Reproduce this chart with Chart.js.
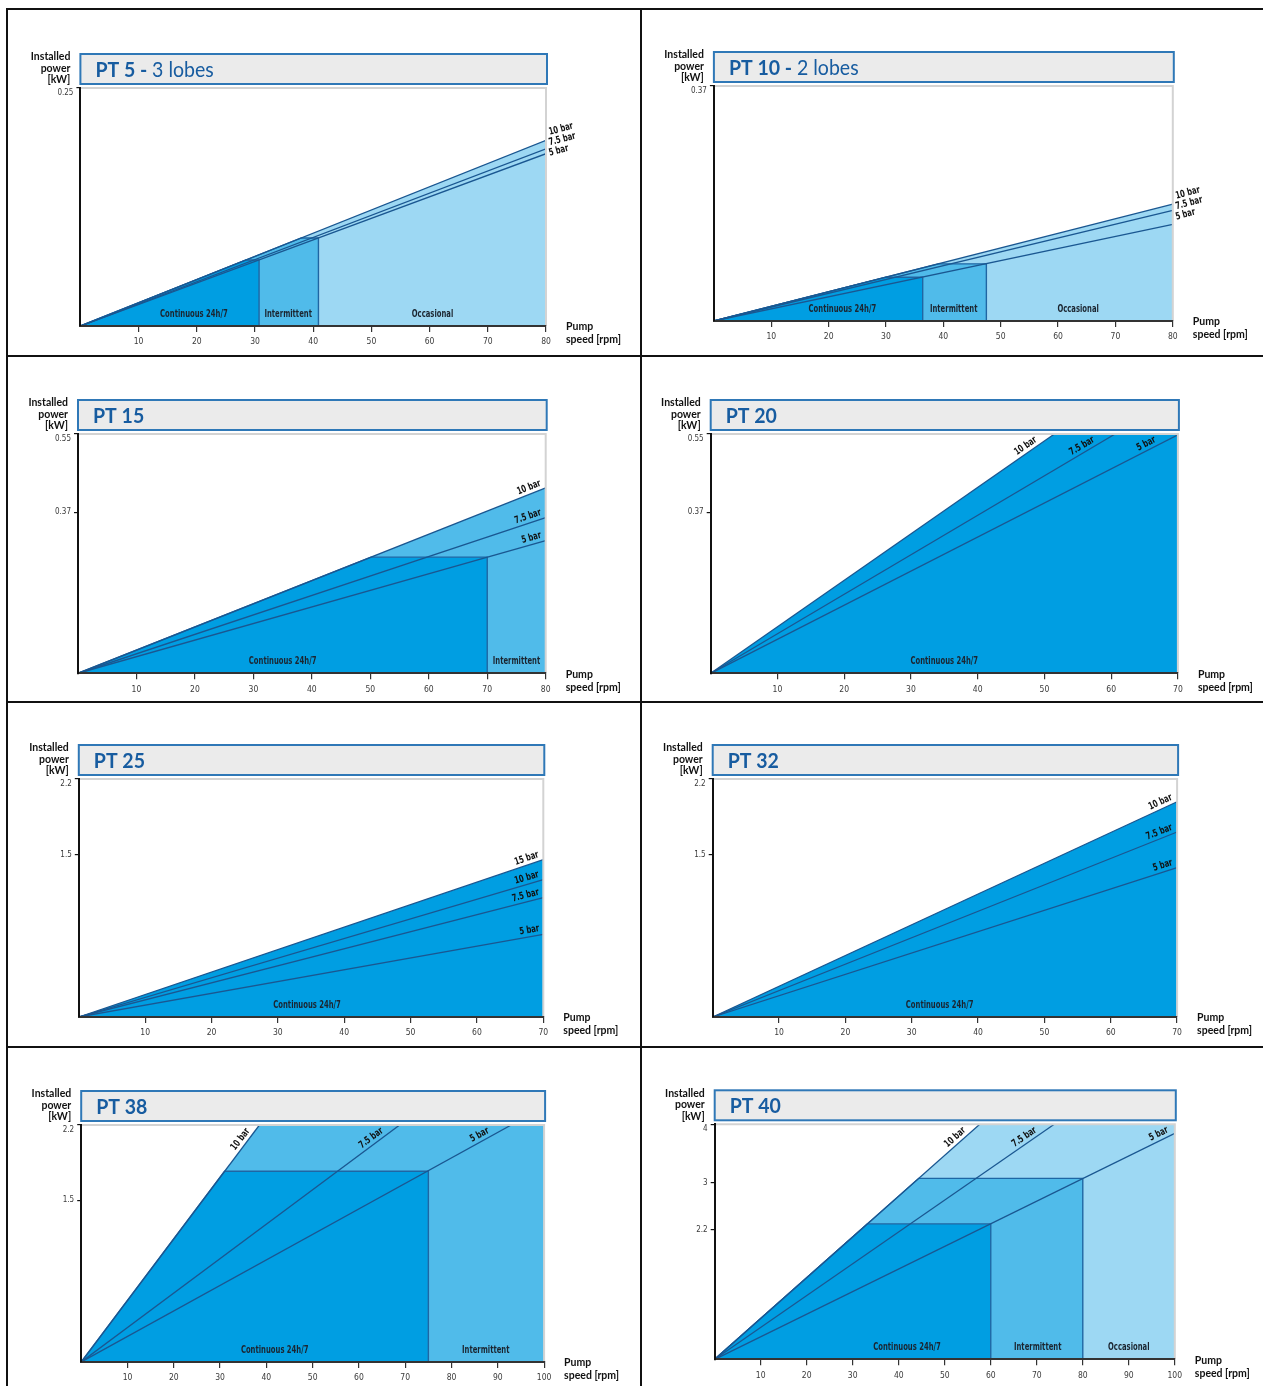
<!DOCTYPE html>
<html>
<head>
<meta charset="utf-8">
<title>Installed power by pump speed</title>
<script src="https://cdn.jsdelivr.net/npm/chart.js@4.4.1/dist/chart.umd.min.js"></script>
<style>
  html, body { margin: 0; padding: 0; background: #fff; }
  #sheet { position: relative; width: 1263px; height: 1386px; overflow: hidden; background: #fff; }
  .rule { position: absolute; background: #111; }
  .cell { position: absolute; }
  .cell canvas { display: block; }
</style>
</head>
<body>
<div id="sheet"></div>
<script>
// ---- data ----
var panelNames = ["PT 5", "PT 10", "PT 15", "PT 20", "PT 25", "PT 32", "PT 38", "PT 40"];
var panelLobes = ["3 lobes", "2 lobes", "", "", "", "", "", ""];
var speedMax = [80, 80, 80, 70, 70, 70, 100, 100];
var powerMax = [0.25, 0.37, 0.55, 0.55, 2.2, 2.2, 2.2, 4];

var speedTicks = [
  [10, 20, 30, 40, 50, 60, 70, 80],
  [10, 20, 30, 40, 50, 60, 70, 80],
  [10, 20, 30, 40, 50, 60, 70, 80],
  [10, 20, 30, 40, 50, 60, 70],
  [10, 20, 30, 40, 50, 60, 70],
  [10, 20, 30, 40, 50, 60, 70],
  [10, 20, 30, 40, 50, 60, 70, 80, 90, 100],
  [10, 20, 30, 40, 50, 60, 70, 80, 90, 100]
];
var powerTicks = [[0.25], [0.37], [0.37, 0.55], [0.37, 0.55], [1.5, 2.2], [1.5, 2.2], [1.5, 2.2], [2.2, 3, 4]];

// pressure curves, highest first
var pressureNames = [
  ["10 bar", "7.5 bar", "5 bar"],
  ["10 bar", "7.5 bar", "5 bar"],
  ["10 bar", "7.5 bar", "5 bar"],
  ["10 bar", "7.5 bar", "5 bar"],
  ["15 bar", "10 bar", "7.5 bar", "5 bar"],
  ["10 bar", "7.5 bar", "5 bar"],
  ["10 bar", "7.5 bar", "5 bar"],
  ["10 bar", "7.5 bar", "5 bar"]
];
// [speed, power] where each curve leaves the chart
var pressureEnds = [
  [[80, 0.195], [80, 0.186], [80, 0.181]],
  [[80, 0.184], [80, 0.174], [80, 0.152]],
  [[80, 0.426], [80, 0.358], [80, 0.305]],
  [[51.5, 0.55], [60.6, 0.55], [70, 0.548]],
  [[70, 1.454], [70, 1.269], [70, 1.103], [70, 0.764]],
  [[70, 1.99], [70, 1.71], [70, 1.38]],
  [[38.5, 2.2], [68.8, 2.2], [92.9, 2.2]],
  [[57.6, 4], [73.8, 4], [100, 3.847]]
];

// duty zones: [max speed, max power] (null power = whole envelope)
var dutyNames = ["Continuous 24h/7", "Intermittent", "Occasional"];
var dutyLimits = [
  [[30.7, 0.0694], [40.9, 0.0925], [80, null]],
  [[36.4, 0.069], [47.5, 0.090], [80, null]],
  [[70, 0.267], [80, null]],
  [[70, null]],
  [[70, null]],
  [[70, null]],
  [[75, 1.77], [100, null]],
  [[60, 2.305], [80, 3.08], [100, null]]
];
var dutyLabelAt = [[19.5, 35.7, 60.5], [22.4, 41.8, 63.5], [35, 75], [35], [34.4], [34.2], [41.8, 87.4], [41.8, 70.2, 90]];

// ---- layout ----
var plotBoxes = [
  [80.4, 88, 546, 326], [713.9, 86, 1172.8, 321],
  [78, 434, 545.7, 673.3], [710.7, 434, 1177.9, 673.3],
  [78.8, 779, 543.3, 1017], [712.7, 779, 1177.1, 1017],
  [81.2, 1125, 544.1, 1362], [714.7, 1124.3, 1174.8, 1359.3]
];
var labelStacked = [true, true, false, false, false, false, false, false];
var cellX = [8, 642], cellW = [632, 621];
var cellY = [10, 357, 703, 1048], cellH = [345, 344, 343, 338];
var Y_AXIS_W = 30, X_AXIS_H = 24;
var SQUEEZE = 0.76; // condensed look for the small labels

var dutyColors = ["#009ee2", "#50bbea", "#9dd8f3"];
var curveColor = "#1a5791";
var zoneEdge = "#1f66a3";
var narrow = '"Liberation Sans Narrow", "DejaVu Sans Condensed", sans-serif';
var headFont = 'Lato, "Open Sans", sans-serif';

var sheet = document.getElementById("sheet");

// frame rules
[[6, 8, 1257, 2], [6, 355, 1257, 2], [6, 701, 1257, 2], [6, 1046, 1257, 2],
 [6, 8, 2, 1378], [640, 8, 2, 1378]].forEach(function (r) {
  var d = document.createElement("div");
  d.className = "rule";
  d.style.left = r[0] + "px"; d.style.top = r[1] + "px";
  d.style.width = r[2] + "px"; d.style.height = r[3] + "px";
  sheet.appendChild(d);
});

// region under the top curve, cut at the zone limits
function envelope(i, lim) {
  var top = pressureEnds[i][0];
  var ex = top[0], ey = top[1];
  var X = lim[0], P = lim[1];
  var pts = [{ x: 0, y: 0 }];
  if (P !== null) {
    var xp = P * ex / ey;
    if (xp < X) {
      pts.push({ x: xp, y: P });
      pts.push({ x: X, y: P });
    } else {
      pts.push({ x: X, y: ey * X / ex });
    }
  } else if (ex < X) {
    pts.push({ x: ex, y: ey });
    pts.push({ x: X, y: ey });
  } else {
    pts.push({ x: X, y: ey * X / ex });
  }
  pts.push({ x: X, y: 0 });
  return pts;
}

var ptPanel = {
  id: "ptPanel",
  afterDatasetsDraw: function (chart, args, opts) {
    var i = opts.index;
    var ctx = chart.ctx, ca = chart.chartArea;
    var xs = chart.scales.x, ys = chart.scales.y;

    // light frame on top and right of the plot
    ctx.save();
    ctx.strokeStyle = "#d3d3d3";
    ctx.lineWidth = 2;
    ctx.beginPath();
    ctx.moveTo(ca.left, ca.top);
    ctx.lineTo(ca.right, ca.top);
    ctx.lineTo(ca.right, ca.bottom);
    ctx.stroke();
    ctx.restore();

    // duty zone names
    ctx.save();
    ctx.fillStyle = "#1b2530";
    ctx.font = "bold 10px " + narrow;
    ctx.textAlign = "center";
    ctx.textBaseline = "middle";
    dutyLimits[i].forEach(function (lim, k) {
      ctx.save();
      ctx.translate(xs.getPixelForValue(dutyLabelAt[i][k]), ys.getPixelForValue(0) - 12);
      ctx.scale(SQUEEZE, 1);
      ctx.fillText(dutyNames[k], 0, 0);
      ctx.restore();
    });
    ctx.restore();

    // pressure labels
    var x0 = xs.getPixelForValue(0), y0 = ys.getPixelForValue(0);
    var firstY = ys.getPixelForValue(pressureEnds[i][0][1]);
    ctx.save();
    ctx.fillStyle = "#111";
    ctx.font = "bold 10px " + narrow;
    pressureEnds[i].forEach(function (end, k) {
      var name = pressureNames[i][k];
      var px = xs.getPixelForValue(end[0]), py = ys.getPixelForValue(end[1]);
      ctx.save();
      if (labelStacked[i]) {
        ctx.translate(ca.right + 3, firstY - 8 + k * 10.5);
        ctx.rotate(-0.26);
        ctx.scale(SQUEEZE, 1);
        ctx.textAlign = "left";
        ctx.textBaseline = "middle";
        ctx.fillText(name, 0, 0);
      } else {
        var ang = Math.atan2(y0 - py, px - x0);
        var h = 9;
        var d = Math.max(3, (h * Math.cos(ang) + 3 - (py - ca.top)) / Math.sin(ang));
        ctx.translate(px - d * Math.cos(ang), py + d * Math.sin(ang));
        ctx.rotate(-ang);
        ctx.scale(SQUEEZE, 1);
        ctx.textAlign = "right";
        ctx.textBaseline = "bottom";
        ctx.fillText(name, 0, -1.5);
      }
      ctx.restore();
    });
    ctx.restore();
  },
  afterDraw: function (chart, args, opts) {
    var i = opts.index;
    var ctx = chart.ctx, ca = chart.chartArea;
    ctx.save();
    // title box
    ctx.fillStyle = "#ebebeb";
    ctx.fillRect(ca.left, ca.top - 34, ca.right - ca.left + 1, 30);
    ctx.strokeStyle = "#2f78b7";
    ctx.lineWidth = 2;
    ctx.strokeRect(ca.left, ca.top - 34, ca.right - ca.left + 1, 30);

    var head = panelLobes[i] ? panelNames[i] + " - " : panelNames[i];
    ctx.fillStyle = "#175ca0";
    ctx.textAlign = "left";
    ctx.textBaseline = "alphabetic";
    ctx.font = "bold 21px " + headFont;
    ctx.save();
    ctx.translate(ca.left + 15, ca.top - 11);
    ctx.scale(0.93, 1);
    ctx.fillText(head, 0, 0);
    if (panelLobes[i]) {
      var w = ctx.measureText(head).width;
      ctx.font = "21px " + headFont;
      ctx.fillText(panelLobes[i], w, 0);
    }
    ctx.restore();

    // axis titles
    ctx.fillStyle = "#111";
    ctx.font = "bold 10.5px " + headFont;
    ctx.textBaseline = "middle";
    ctx.textAlign = "right";
    ["Installed", "power", "[kW]"].forEach(function (t, k) {
      ctx.fillText(t, ca.left - 10, ca.top - 31 + k * 11.5);
    });
    ctx.textAlign = "left";
    ["Pump", "speed [rpm]"].forEach(function (t, k) {
      ctx.fillText(t, ca.right + 20, ca.bottom + 1 + k * 13);
    });
    ctx.restore();
  }
};

panelNames.forEach(function (name, i) {
  var col = i % 2, row = Math.floor(i / 2);
  var cx = cellX[col], cy = cellY[row], cw = cellW[col], chh = cellH[row];
  var box = plotBoxes[i];

  var cell = document.createElement("div");
  cell.className = "cell";
  cell.style.left = cx + "px";
  cell.style.top = cy + "px";
  var canvas = document.createElement("canvas");
  canvas.width = cw;
  canvas.height = chh;
  cell.appendChild(canvas);
  sheet.appendChild(cell);

  var datasets = [];
  dutyLimits[i].forEach(function (lim, k) {
    datasets.push({
      label: dutyNames[k],
      data: envelope(i, lim),
      backgroundColor: dutyColors[k],
      borderColor: lim[1] === null ? "rgba(0,0,0,0)" : zoneEdge,
      borderWidth: lim[1] === null ? 0 : 1.4,
      fill: "origin",
      pointRadius: 0,
      tension: 0,
      order: 10 + k
    });
  });
  pressureEnds[i].forEach(function (end, k) {
    datasets.push({
      label: pressureNames[i][k],
      data: [{ x: 0, y: 0 }, { x: end[0], y: end[1] }],
      borderColor: curveColor,
      borderWidth: 1.3,
      fill: false,
      pointRadius: 0,
      order: 0
    });
  });

  var yTop = powerMax[i];

  new Chart(canvas.getContext("2d"), {
    type: "line",
    data: { datasets: datasets },
    plugins: [ptPanel],
    options: {
      responsive: false,
      animation: false,
      devicePixelRatio: 1,
      layout: {
        padding: {
          left: box[0] - cx - Y_AXIS_W,
          top: box[1] - cy,
          right: cx + cw - box[2],
          bottom: cy + chh - box[3] - X_AXIS_H
        }
      },
      plugins: {
        legend: { display: false },
        tooltip: { enabled: false },
        ptPanel: { index: i }
      },
      scales: {
        x: {
          type: "linear",
          min: 0,
          max: speedMax[i],
          afterBuildTicks: function (s) {
            s.ticks = speedTicks[i].map(function (v) { return { value: v }; });
          },
          afterFit: function (s) { s.height = X_AXIS_H; },
          grid: { display: true, drawOnChartArea: false, drawTicks: true, tickLength: 6, color: "#333", lineWidth: 1.2, z: 1 },
          border: { display: true, color: "#333", width: 2, z: 1 },
          ticks: {
            autoSkip: false,
            maxRotation: 0,
            padding: 5,
            color: "#3a3a3a",
            font: { family: narrow, size: 8.5 },
            callback: function (v) { return String(v); }
          }
        },
        y: {
          type: "linear",
          min: 0,
          max: yTop,
          afterBuildTicks: function (s) {
            s.ticks = powerTicks[i].map(function (v) { return { value: v }; });
          },
          afterFit: function (s) { s.width = Y_AXIS_W; },
          grid: { display: true, drawOnChartArea: false, drawTicks: true, tickLength: 4, color: "#111", lineWidth: 1.2, z: 1 },
          border: { display: true, color: "#111", width: 2, z: 1 },
          ticks: {
            padding: 3,
            color: "#3a3a3a",
            font: { family: narrow, size: 8 },
            // top label sits just under its tick, as on the sheet
            callback: function (v) { return v === yTop ? ["", String(v)] : String(v); }
          }
        }
      }
    }
  });
});
</script>
</body>
</html>
